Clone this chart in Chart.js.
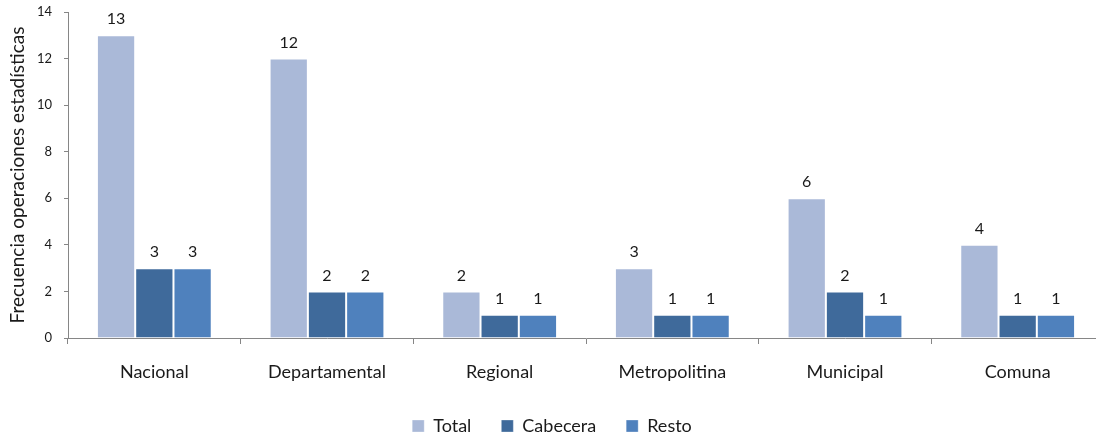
<!DOCTYPE html>
<html>
<head>
<meta charset="utf-8">
<script src="https://cdn.jsdelivr.net/npm/chart.js@4"></script>
<style>
  html, body { margin: 0; padding: 0; background: #fff; overflow: hidden; }
  #wrap { width: 1110px; height: 445px; }
</style>
</head>
<body>
<div id="wrap"><canvas id="chart"></canvas></div>
<script>
var categories = ['Nacional', 'Departamental', 'Regional', 'Metropolitina', 'Municipal', 'Comuna'];
var totalValues = [13, 12, 2, 3, 6, 4];
var cabeceraValues = [3, 2, 1, 1, 2, 1];
var restoValues = [3, 2, 1, 1, 1, 1];
var yTicks = [0, 2, 4, 6, 8, 10, 12, 14];

var FONT = 'Lato, "Liberation Sans", sans-serif';

// draws the number above every bar
var barLabels = {
    id: 'barLabels',
    afterDatasetsDraw: function (chart) {
        var ctx = chart.ctx;
        ctx.save();
        ctx.font = '16px ' + FONT;
        ctx.fillStyle = '#1a1a1a';
        ctx.textAlign = 'center';
        ctx.textBaseline = 'middle';
        chart.data.datasets.forEach(function (ds, i) {
            chart.getDatasetMeta(i).data.forEach(function (bar, j) {
                ctx.fillText(ds.data[j], bar.x, bar.y - 16);
            });
        });
        ctx.restore();
    }
};

var ctx = document.getElementById('chart').getContext('2d');
var myChart = new Chart(ctx, {
    type: 'bar',
    data: {
        labels: categories,
        datasets: [{
            label: 'Total',
            data: totalValues,
            backgroundColor: '#AAB9D8',
            borderColor: 'rgba(255,255,255,0.3)',
            borderWidth: 1
        }, {
            label: 'Cabecera',
            data: cabeceraValues,
            backgroundColor: '#3F6A9B',
            borderColor: 'rgba(255,255,255,0.3)',
            borderWidth: 1
        }, {
            label: 'Resto',
            data: restoValues,
            backgroundColor: '#4F81BD',
            borderColor: 'rgba(255,255,255,0.3)',
            borderWidth: 1
        }]
    },
    options: {
        responsive: true,
        maintainAspectRatio: false,
        animation: false,
        layout: { padding: { top: 12, right: 6, left: 0, bottom: 0 } },
        datasets: {
            bar: { barPercentage: 1, categoryPercentage: 0.665 }
        },
        scales: {
            x: {
                afterFit: function (scale) { scale.height = 49; },
                grid: { drawOnChartArea: false, offset: true, tickLength: 6, color: '#868686' },
                border: { color: '#868686' },
                ticks: { color: '#1a1a1a', font: { family: FONT, size: 18 }, padding: 17 }
            },
            y: {
                min: 0,
                max: 14,
                afterFit: function (scale) {
                    scale.width = 68;
                    scale.paddingTop = 0;
                    scale.paddingBottom = 0;
                },
                afterBuildTicks: function (scale) {
                    scale.ticks = yTicks.map(function (v) { return { value: v }; });
                },
                grid: { drawOnChartArea: false, tickLength: 4, color: '#868686' },
                border: { color: '#868686' },
                ticks: { color: '#1a1a1a', font: { family: FONT, size: 13 }, padding: 12 },
                title: {
                    display: true,
                    text: 'Frecuencia operaciones estadísticas',
                    color: '#1a1a1a',
                    font: { family: FONT, size: 19 },
                    padding: { top: 6, bottom: 0 }
                }
            }
        },
        plugins: {
            legend: {
                display: true,
                position: 'bottom',
                labels: {
                    color: '#1a1a1a',
                    font: { family: FONT, size: 18 },
                    boxWidth: 12,
                    boxHeight: 12,
                    padding: 30
                }
            },
            tooltip: { enabled: false }
        }
    },
    plugins: [barLabels]
});
</script>
</body>
</html>
